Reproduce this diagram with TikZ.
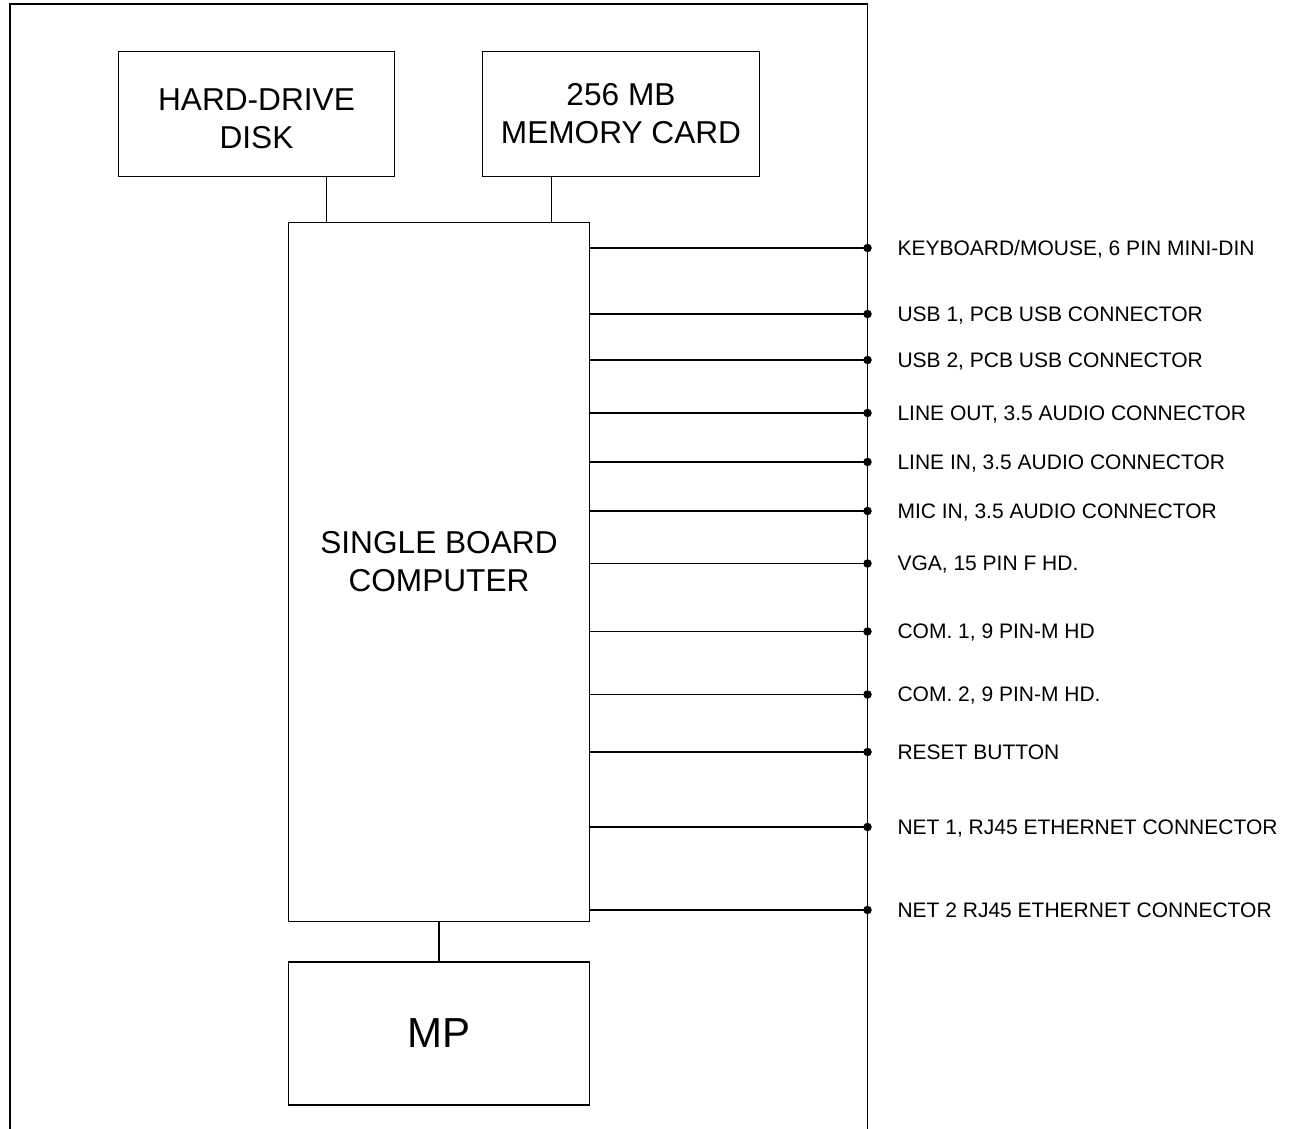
\documentclass[tikz,border=0pt]{standalone}
\usepackage{fontspec}
\setmainfont{Liberation Sans}
\usetikzlibrary{positioning}

\begin{document}
\begin{tikzpicture}[x=1cm,y=1cm,line width=0.6pt,
  unit/.style={draw,inner sep=0pt,align=center,font=\fontsize{18}{21.6}\selectfont},
  portlab/.style={anchor=west,inner sep=0pt,text height=0.3cm,text depth=0pt,font=\fontsize{11.95}{14}\selectfont}]
 \useasboundingbox (0,0) rectangle (25.8,22.58);
 \draw (0.2,0) |- (17.35,22.5) -- (17.35,0);
 \node[unit,minimum width=5.52cm,minimum height=2.51cm] (hdd) at (5.13,20.3) {};
 \node[align=center,font=\fontsize{18}{21.6}\selectfont] (hddtext) at (5.13,20.2) {HARD-DRIVE\\DISK};
 \node[unit,minimum width=5.53cm,minimum height=2.51cm] (mem) at (12.42,20.3) {256 MB\\MEMORY CARD};
 \node[unit,minimum width=6.01cm,minimum height=13.98cm] (sbc) at (8.78,11.14) {};
 \node[align=center,font=\fontsize{18}{21.6}\selectfont] (sbctext) at (8.78,11.35) {SINGLE BOARD\\COMPUTER};
 \node[unit,minimum width=6.01cm,minimum height=2.86cm,font=\fontsize{23.9}{28}\selectfont] (mp) at (8.78,1.91) {MP};
 \draw ([xshift=1.4cm]hdd.south) -- ([xshift=1.4cm]hdd.south |- sbc.north);
 \draw ([xshift=-1.39cm]mem.south) -- ([xshift=-1.39cm]mem.south |- sbc.north);
 \draw (sbc.south) -- (mp.north);
 \foreach \i/\y/\lab in {1/17.62/{KEYBOARD/MOUSE, 6 PIN MINI-DIN},2/16.30/{USB 1, PCB USB CONNECTOR},
   3/15.38/{USB 2, PCB USB CONNECTOR},4/14.32/{LINE OUT, 3.5 AUDIO CONNECTOR},
   5/13.34/{LINE IN, 3.5 AUDIO CONNECTOR},6/12.36/{MIC IN, 3.5 AUDIO CONNECTOR},
   7/11.31/{VGA, 15 PIN F HD.},8/9.95/{COM. 1, 9 PIN-M HD},9/8.69/{COM. 2, 9 PIN-M HD.},
   10/7.54/{RESET BUTTON},11/6.04/{NET 1, RJ45 ETHERNET CONNECTOR},12/4.38/{NET 2 RJ45 ETHERNET CONNECTOR}}{%
   \coordinate (p\i) at (17.35,\y);
   \draw (sbc.east |- p\i) -- (p\i);
   \fill (p\i) circle[radius=0.085cm];
   \node[portlab,right=0.59cm of p\i] (lab\i) {\lab};
 }
\end{tikzpicture}
\end{document}
